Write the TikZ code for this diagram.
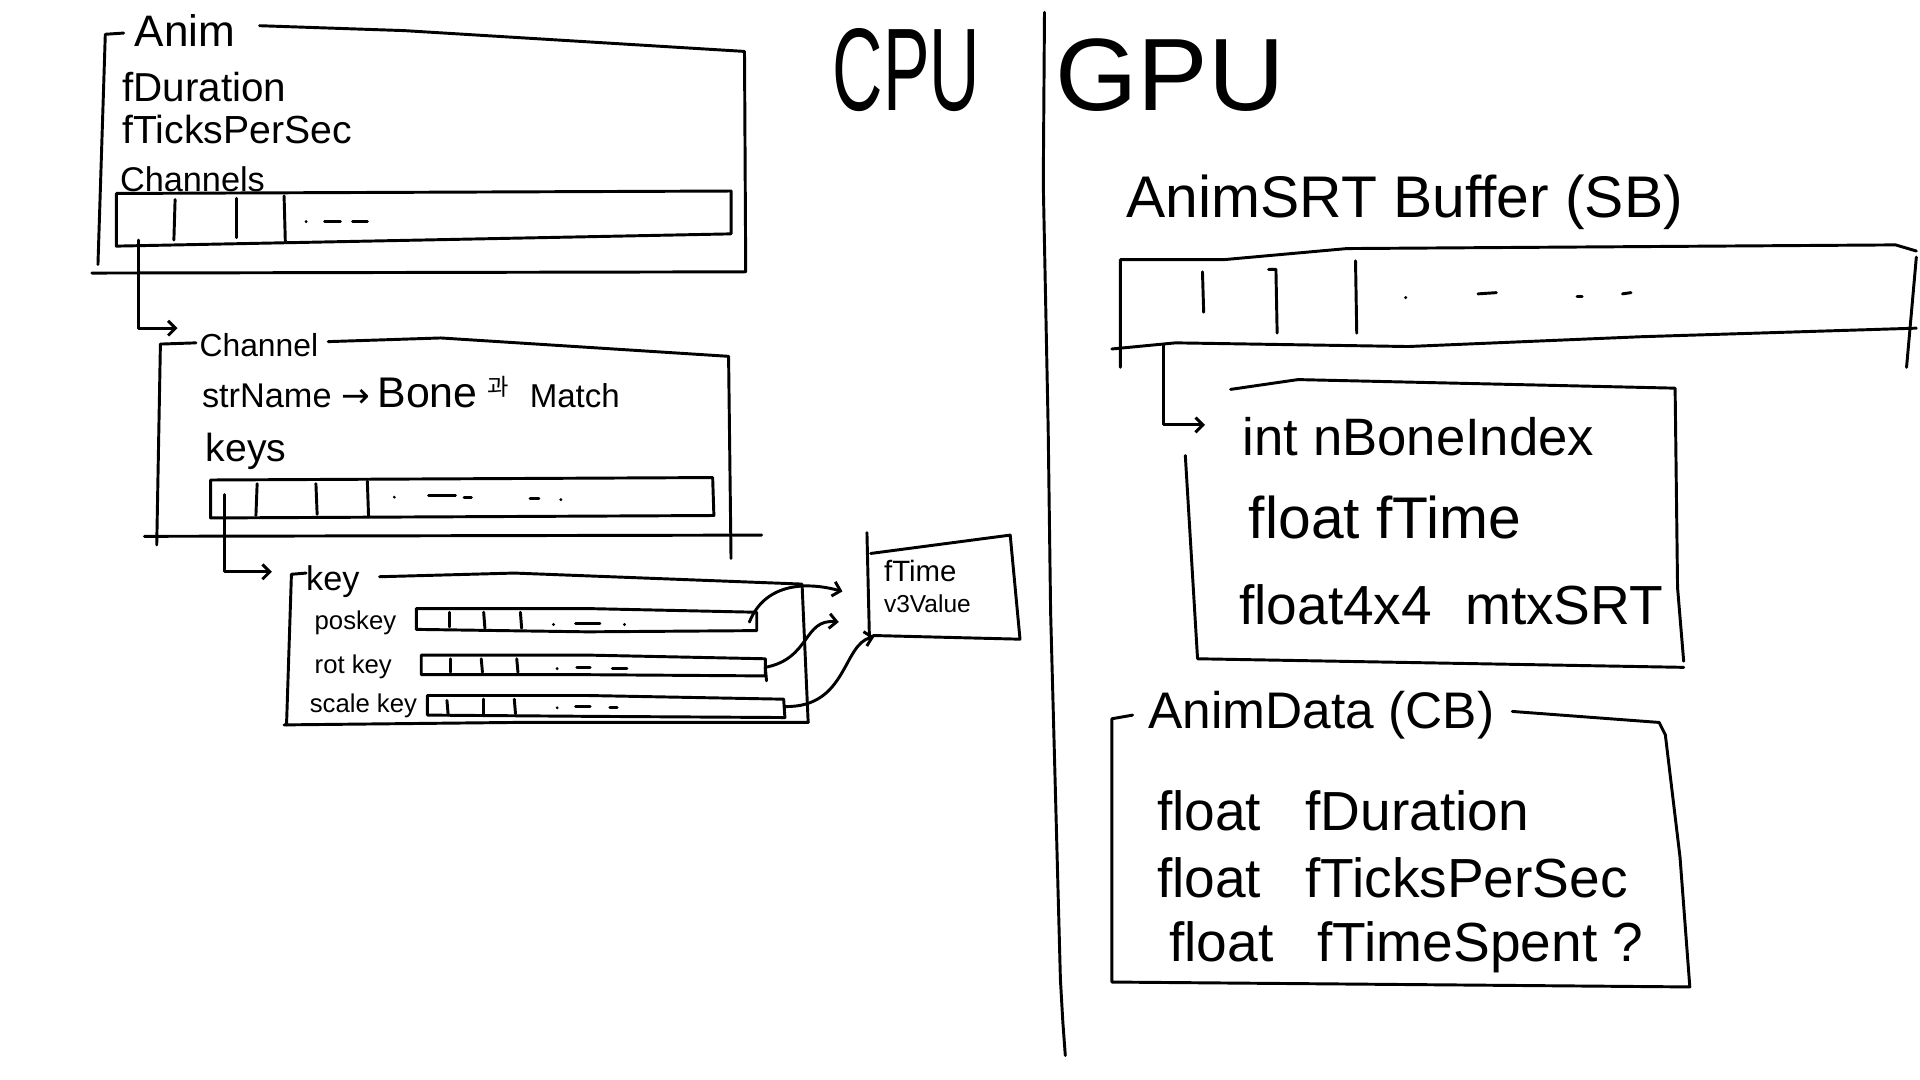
\documentclass[tikz,border=0pt]{standalone}
\usepackage{fontspec}
\usepackage{graphicx}
\setmainfont{Liberation Sans}
\newfontfamily\krfont{Noto Sans CJK KR}
\newfontfamily\dvfont{DejaVu Sans}
\usetikzlibrary{arrows.meta}
\newcommand\hsz[1]{\fontsize{#1}{#1}\selectfont}
\begin{document}
\begin{tikzpicture}[x=1pt,y=-1pt,
  ink/.style={line width=2.4pt, line cap=round, line join=round},
  lbl/.style={anchor=base west, inner sep=0pt, outer sep=0pt},
  barb/.style={-{Straight Barb[length=6pt,width=12pt]}}
]
\useasboundingbox (0,0) rectangle (1568,882);
\fill[white] (0,0) rectangle (1568,882);

% ---------------- CPU / GPU headings and divider
\node[lbl,font=\hsz{60}] (cpu) at (680,90) {\scalebox{0.95}[1.6]{CPU}};
\node[lbl,font=\hsz{60}] (gpu) at (862,90) {\scalebox{1.44}[1.4]{GPU}};
\draw[ink] (853,10) -- (852,150) -- (856,350) -- (858,500) -- (862,650) -- (866,800) -- (868,835) -- (870,862);

% ---------------- Anim box
\node[lbl,font=\hsz{36}] (animT) at (110,38) {Anim};
\draw[ink] (101,27) -- (86,28) -- (80,216);
\draw[ink] (212,21) -- (330,25) -- (608,42) -- (609,222);
\draw[ink] (75,223) -- (608,222);
\node[lbl,font=\hsz{33}] (aDur) at (100,83) {fDuration};
\node[lbl,font=\hsz{32}] (aTps) at (100,117) {fTicksPerSec};
\node[lbl,font=\hsz{28}] (aCh) at (98,156) {Channels};
% channels array
\draw[ink] (95,158) -- (597,156) -- (597,191) -- (95,201) -- cycle;
\draw[ink] (143,163) -- (142,196);
\draw[ink] (193,162) -- (193,194);
\draw[ink] (232,160) -- (233,197);
\fill (250,181) circle (1.3pt);
\draw[ink] (265,181) -- (278,181);
\draw[ink] (288,181) -- (300,181);
\coordinate (c1s) at (113,196);
\coordinate (c1e) at (145,268);
\draw[ink,barb] (c1s) |- (c1e);

% ---------------- Channel box
\node[lbl,font=\hsz{26}] (chT) at (163,291) {Channel};
\draw[ink] (160,280) -- (131,281) -- (128,445);
\draw[ink] (268,279) -- (360,276) -- (595,291) -- (597,456);
\draw[ink] (118,438) -- (622,437);
\node[lbl,font=\hsz{28}] (chName) at (165,333)
  {strName\hspace{0.3em}{\dvfont\hsz{28}→}\hspace{0.2em}{\hsz{35}Bone}\hspace{0.3em}\raisebox{0.35em}{\krfont\hsz{19}과}\hspace{0.6em}{\hsz{27}Match}};
\node[lbl,font=\hsz{32}] (chKeys) at (168,377) {keys};
% keys array
\draw[ink] (172,392) -- (582,390) -- (583,421) -- (172,423) -- cycle;
\draw[ink] (210,395) -- (209,421);
\draw[ink] (258,395) -- (259,420);
\draw[ink] (300,393) -- (301,422);
\fill (322,406) circle (1.3pt);
\draw[ink] (350,405) -- (372,405);
\draw[ink] (379,406) -- (385,406);
\draw[ink] (433,407) -- (440,407);
\fill (458,408) circle (1.3pt);
\coordinate (c2s) at (183,404);
\coordinate (c2e) at (222,467);
\draw[ink,barb] (c2s) |- (c2e);

% ---------------- key box
\node[lbl,font=\hsz{28}] (keyT) at (250,482) {key};
\draw[ink] (250,468) -- (238,469) -- (234,592);
\draw[ink] (310,471) -- (420,468) -- (655,477) -- (660,590);
\draw[ink] (232,592) -- (420,590) -- (660,590);

\node[lbl,font=\hsz{21}] (pos) at (257,514) {poskey};
\draw[ink] (340,497) -- (480,497) -- (618,500) -- (618,515) -- (480,516) -- (340,514) -- cycle;
\draw[ink] (367,500) -- (367,512);
\draw[ink] (395,500) -- (396,513);
\draw[ink] (425,500) -- (426,513);
\fill (452,510) circle (1.3pt);
\draw[ink] (470,509) -- (490,509);
\fill (510,510) circle (1.3pt);

\node[lbl,font=\hsz{21}] (rot) at (257,550) {rot key};
\draw[ink] (344,535) -- (480,535) -- (625,538) -- (625,552) -- (480,551) -- (344,551) -- cycle;
\draw[ink] (625,545) -- (626,556);
\draw[ink] (368,538) -- (368,549);
\draw[ink] (393,538) -- (394,549);
\draw[ink] (422,538) -- (423,549);
\fill (455,546) circle (1.3pt);
\draw[ink] (471,545) -- (482,545);
\draw[ink] (500,546) -- (512,546);

\node[lbl,font=\hsz{21}] (scl) at (253,582) {scale key};
\draw[ink] (349,568) -- (480,568) -- (640,571) -- (641,586) -- (480,585) -- (349,584) -- cycle;
\draw[ink] (365,572) -- (366,584);
\draw[ink] (395,571) -- (395,583);
\draw[ink] (420,571) -- (421,583);
\fill (455,578) circle (1.3pt);
\draw[ink] (470,577) -- (482,577);
\draw[ink] (498,578) -- (504,578);

% ---------------- fTime box
\draw[ink] (708,435) -- (710,520);
\draw[ink] (711,452) -- (825,437) -- (833,522) -- (713,519);
\node[lbl,font=\hsz{24}] (kT) at (722,475) {fTime};
\node[lbl,font=\hsz{20}] (kV) at (722,500) {v3Value};

\coordinate (pk) at (612,508);
\coordinate (rk) at (625,545);
\coordinate (sk) at (641,577);
\coordinate (t1) at (688,483);
\coordinate (t2) at (685,508);
\coordinate (t3) at (714,520);
\draw[ink,barb] (pk) .. controls (624,478) and (655,474) .. (t1);
\draw[ink,barb] (rk) .. controls (662,538) and (656,505) .. (t2);
\draw[ink,barb] (sk) .. controls (692,578) and (688,526) .. (t3);

% ---------------- AnimSRT Buffer
\node[lbl,font=\hsz{48}] (srtT) at (920,178) {AnimSRT Buffer (SB)};
\draw[ink] (915,300) -- (915,212) -- (1000,212) -- (1100,203) -- (1548,200) -- (1565,205);
\draw[ink] (1565,210) -- (1557,300);
\draw[ink] (908,285) -- (960,280) -- (1150,283) -- (1340,275) -- (1565,268);
\draw[ink] (982,222) -- (983,255);
\draw[ink] (1036,220) -- (1042,220) -- (1043,272);
\draw[ink] (1107,213) -- (1108,272);
\fill (1148,243) circle (1.4pt);
\draw[ink] (1207,240) -- (1222,239);
\draw[ink] (1288,242) -- (1292,242);
\draw[ink] (1325,240) -- (1332,239);
\coordinate (c3s) at (950,282);
\coordinate (c3e) at (984,347);
\draw[ink,barb] (c3s) |- (c3e);

% ---------------- SRT struct
\draw[ink] (1005,318) -- (1060,310) -- (1368,317) -- (1370,480) -- (1375,540);
\draw[ink] (968,372) -- (978,538) -- (1375,545);
\node[lbl,font=\hsz{43}] (sIdx) at (1015,372) {int nBoneIndex};
\node[lbl,font=\hsz{48}] (sTime) at (1020,440) {float fTime};
\node[lbl,font=\hsz{45}] (sMtx) at (1012,510) {float4x4\hspace{0.6em}mtxSRT};

% ---------------- AnimData
\node[lbl,font=\hsz{42}] (adT) at (938,595) {AnimData (CB)};
\draw[ink] (925,584) -- (908,587) -- (908,802) -- (1380,806) -- (1372,700) -- (1360,600) -- (1355,590) -- (1235,581);
\node[lbl,font=\hsz{45}] (adDur) at (945,678) {float\hspace{0.8em}fDuration};
\node[lbl,font=\hsz{45}] (adTps) at (945,733) {float\hspace{0.8em}fTicksPerSec};
\node[lbl,font=\hsz{45}] (adTs) at (955,785) {float\hspace{0.8em}fTimeSpent ?};
\end{tikzpicture}
\end{document}
